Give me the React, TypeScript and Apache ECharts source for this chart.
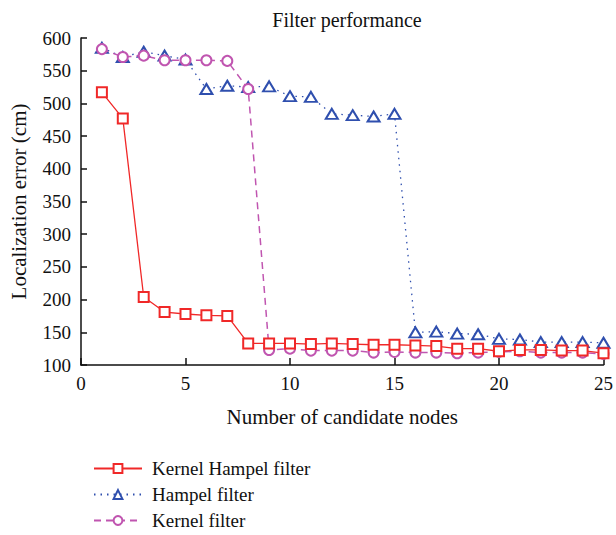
import React, { useEffect, useRef } from "react";
import * as echarts from "echarts";

const nodes = [1,2,3,4,5,6,7,8,9,10,11,12,13,14,15,16,17,18,19,20,21,22,23,24,25];
const kernelHampel = [517,477,204,181,178,176,175,133,133,133,132,133,132,131,131,130,129,125,125,121,123,123,122,122,118];
const hampel = [585,571,579,573,567,522,527,525,526,511,510,484,482,480,484,150,151,148,147,140,139,135,135,135,134];
const kernel = [583,571,573,566,566,566,565,522,123,125,122,122,122,119,120,119,119,118,119,120,121,119,119,119,117];

const pairs = (ys: number[]) => nodes.map((x, i) => [x, ys[i]]);
const FONT = "Liberation Serif";

export default function App() {
  const ref = useRef<HTMLDivElement>(null);
  useEffect(() => {
    const chart = echarts.init(ref.current!, null, { renderer: "svg" });
    const axisLabel = { color: "#111", fontFamily: FONT, fontSize: 19 };
    chart.setOption({
      animation: false,
      backgroundColor: "#fff",
      title: {
        text: "Filter performance",
        left: 342,
        top: 5,
        textAlign: "center",
        textStyle: { fontFamily: FONT, fontSize: 20, fontWeight: "normal", color: "#111" },
      },
      grid: { left: 80, right: 10, top: 38, bottom: 170 },
      legend: {
        orient: "vertical",
        left: 88,
        top: 454,
        height: 81,
        itemWidth: 48,
        itemHeight: 11,
        itemGap: 7,
        data: ["Kernel Hampel filter", "Hampel filter", "Kernel filter"],
        textStyle: { fontFamily: FONT, fontSize: 19, color: "#111", padding: [0, 0, 0, 5] },
      },
      xAxis: {
        type: "value",
        min: 0,
        max: 25,
        interval: 5,
        name: "Number of candidate nodes",
        nameLocation: "middle",
        nameGap: 41,
        nameTextStyle: { fontFamily: FONT, fontSize: 21, color: "#111" },
        axisLine: { lineStyle: { color: "#111", width: 1.5 } },
        axisTick: { inside: true, length: 7, lineStyle: { color: "#111", width: 1.5 } },
        axisLabel: { ...axisLabel, margin: 9 },
        splitLine: { show: false },
      },
      yAxis: {
        type: "value",
        min: 100,
        max: 600,
        interval: 50,
        name: "Localization error (cm)",
        nameLocation: "middle",
        nameGap: 52,
        nameTextStyle: { fontFamily: FONT, fontSize: 21, color: "#111" },
        axisLine: { show: true, lineStyle: { color: "#111", width: 1.5 } },
        axisTick: { show: true, inside: true, length: 6, lineStyle: { color: "#111", width: 1.5 } },
        axisLabel: { ...axisLabel, margin: 10 },
        splitLine: { show: false },
      },
      series: [
        {
          name: "Hampel filter",
          type: "line",
          data: pairs(hampel),
          symbol: "emptyTriangle",
          symbolSize: [12, 10],
          z: 2,
          color: "#2f4fae",
          lineStyle: { color: "#2f4fae", width: 1.3, type: [1.5, 5] },
          itemStyle: { color: "#2f4fae", borderWidth: 1.5 },
        },
        {
          name: "Kernel filter",
          type: "line",
          data: pairs(kernel),
          symbol: "emptyCircle",
          symbolSize: 10,
          z: 3,
          color: "#c055b0",
          lineStyle: { color: "#c055b0", width: 1.5, type: [7, 5] },
          itemStyle: { color: "#c055b0", borderWidth: 1.3 },
        },
        {
          name: "Kernel Hampel filter",
          type: "line",
          data: pairs(kernelHampel),
          symbol: "emptyRect",
          symbolSize: 10,
          z: 4,
          color: "#f02828",
          lineStyle: { color: "#f02828", width: 1.3 },
          itemStyle: { color: "#f02828", borderWidth: 1.3 },
        },
      ],
    });
    return () => chart.dispose();
  }, []);
  return <div ref={ref} style={{ width: 616, height: 535, position: "fixed", left: 0, top: 0 }} />;
}
